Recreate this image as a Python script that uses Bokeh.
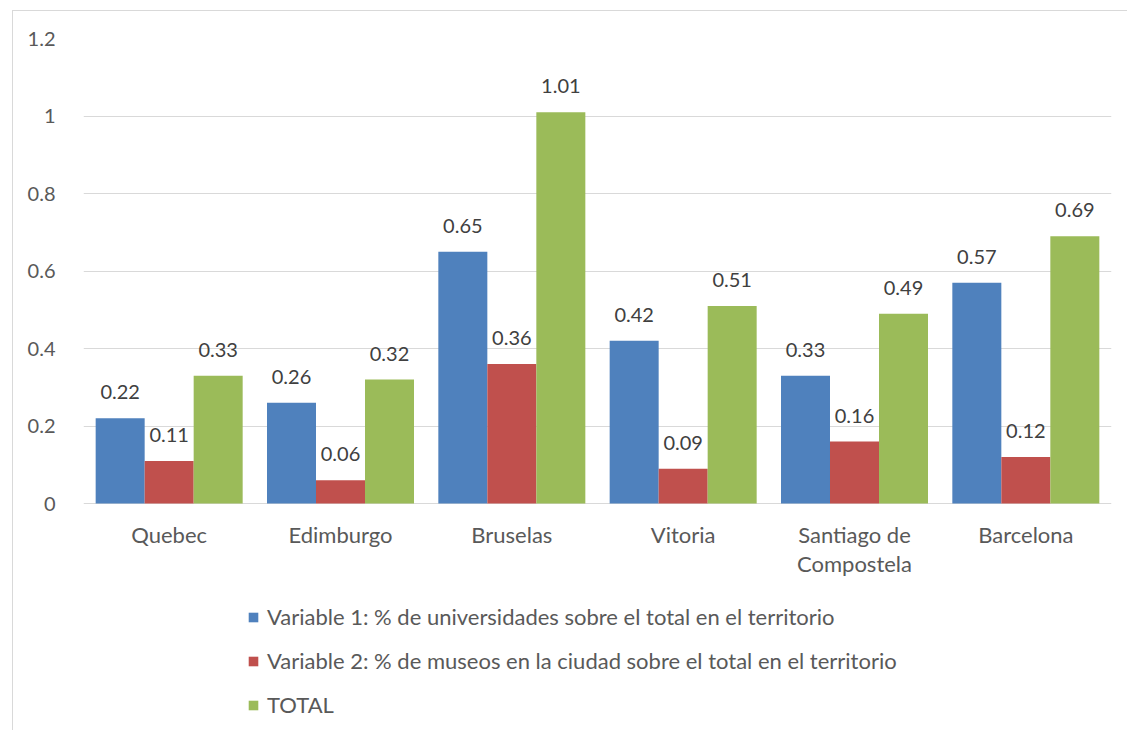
from bokeh.plotting import figure
from bokeh.models import ColumnDataSource, FactorRange, FixedTicker, Legend, LegendItem, Range1d
from bokeh.transform import dodge
from bokeh.core.properties import value
from bokeh.embed import file_html
from bokeh.resources import INLINE

cities = ["Quebec", "Edimburgo", "Bruselas", "Vitoria", "Santiago de\nCompostela", "Barcelona"]
var1 = [0.22, 0.26, 0.65, 0.42, 0.33, 0.57]
var2 = [0.11, 0.06, 0.36, 0.09, 0.16, 0.12]
total = [0.33, 0.32, 1.01, 0.51, 0.49, 0.69]
series_names = [
    "Variable 1: % de universidades sobre el total en el territorio",
    "Variable 2: % de museos en la ciudad sobre el total en el territorio",
    "TOTAL",
]
colors = ["#4F81BD", "#C0504D", "#9BBB59"]
y_ticks = [0, 0.2, 0.4, 0.6, 0.8, 1.0, 1.2]
y_tick_labels = ["0", "0.2", "0.4", "0.6", "0.8", "1", "1.2"]

FONT = "Lato"
BW = 0.286

# layout constants (pixels)
W, H = 1115, 720
B_LEFT, B_TOP, B_RIGHT = 70, 27, 17
PX_PER_UNIT = 387.5
frame_h = H - B_TOP
y_top = 1.2
y_bottom = y_top - frame_h / PX_PER_UNIT

p = figure(width=W, height=H, output_backend="svg", toolbar_location=None,
           x_range=FactorRange(factors=cities, range_padding=0, factor_padding=0),
           y_range=Range1d(y_bottom, y_top),
           min_border_left=B_LEFT, min_border_top=B_TOP, min_border_right=B_RIGHT,
           min_border_bottom=0)
p.margin = (10, 0, 0, 12)
p.styles = {"border-top": "1px solid #d9d9d9", "border-left": "1px solid #d9d9d9"}
p.outline_line_color = None
p.xgrid.grid_line_color = None
p.ygrid.grid_line_color = "#d9d9d9"
p.ygrid.grid_line_width = 1
p.xaxis.visible = False

p.yaxis.ticker = FixedTicker(ticks=y_ticks)
p.yaxis.major_label_overrides = {t: l for t, l in zip(y_ticks, y_tick_labels)}
p.yaxis.axis_line_color = None
p.yaxis.major_tick_line_color = None
p.yaxis.minor_tick_line_color = None
p.yaxis.major_label_text_font = FONT
p.yaxis.major_label_text_font_size = "20px"
p.yaxis.major_label_text_color = "#595959"
p.yaxis.major_label_standoff = 22

# category labels under the bars
cat_src = ColumnDataSource(dict(city=cities, y=[0] * len(cities)))
p.text(x="city", y="y", text="city", source=cat_src, text_align="center",
       text_baseline="top", y_offset=17, text_line_height=1.1,
       text_font=value(FONT), text_font_size="22px", text_color="#595959")

offsets = [-BW, 0, BW]
items = []
for vals, name, col, off in zip([var1, var2, total], series_names, colors, offsets):
    src = ColumnDataSource(dict(city=cities, v=vals, label=["%.2f" % v for v in vals]))
    r = p.vbar(x=dodge("city", off, range=p.x_range), top="v", width=BW, source=src,
               fill_color=col, line_color=None)
    p.text(x=dodge("city", off, range=p.x_range), y="v", text="label", source=src,
           text_align="center", text_baseline="alphabetic", y_offset=-26,
           text_font=value(FONT), text_font_size="20px", text_color="#404040")
    items.append(LegendItem(label=name, renderers=[r]))

legend = Legend(items=items, orientation="vertical", location=(164, 13),
                glyph_width=12, glyph_height=12, label_standoff=8,
                label_text_font=FONT, label_text_font_size="22px", label_text_color="#595959",
                label_height=25, spacing=17, padding=0, margin=0,
                border_line_color=None, background_fill_alpha=0)
p.add_layout(legend, "center")

open("out.html", "w").write(file_html(p, INLINE))
